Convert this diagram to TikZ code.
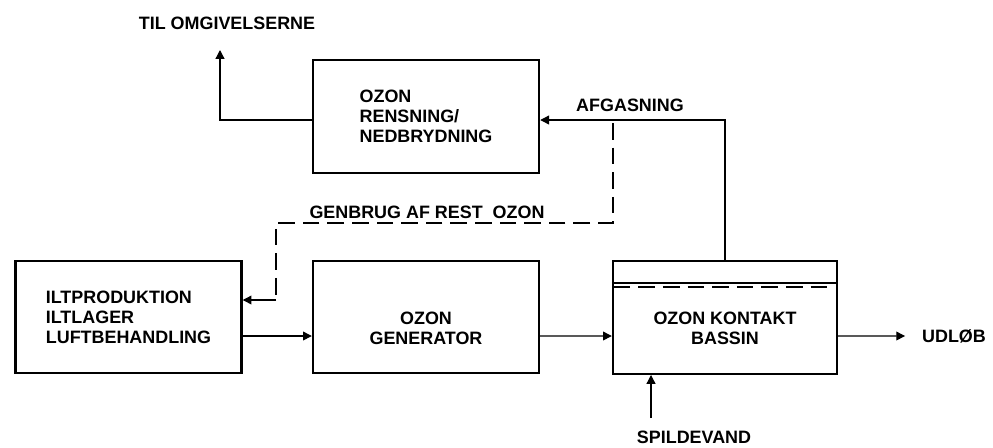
\documentclass[tikz,border=0pt]{standalone}
\usepackage{fontspec}
\setmainfont{Liberation Sans}
\usetikzlibrary{arrows.meta,calc}
\tikzset{
  boks/.style={draw,line width=1.4pt,minimum width=4.52cm,minimum height=2.25cm,inner sep=0pt},
  tekst/.style={font=\bfseries\fontsize{10.2}{11.3}\selectfont,inner sep=1pt},
  pil/.style={line width=0.7pt,-{Triangle[length=5pt,width=5pt]}},
  streg/.style={line width=0.7pt},
  stiplet/.style={line width=0.8pt,dash pattern=on 9.5pt off 4.5pt},
}
\begin{document}
\begin{tikzpicture}[x=0.02cm,y=-0.02cm]
\useasboundingbox (0,0) rectangle (993,447);
\node[boks,tekst,align=left] (rens) at (426,116.5) {OZON\\RENSNING/\\NEDBRYDNING};
\node[boks,tekst,align=left] (ilt) at (128.5,317) {ILTPRODUKTION\\ILTLAGER\\LUFTBEHANDLING};
\node[boks] (gen) at (426,317) {};
\node[tekst,align=center] (gentxt) at (426,328) {OZON\\GENERATOR};
\node[boks,minimum width=4.48cm] (bas) at (725,317.5) {};
\node[tekst,align=center] (bastxt) at (725,328) {OZON KONTAKT\\BASSIN};
\draw[streg] ($(bas.north west)+(0,23)$) -- ($(bas.north east)+(0,23)$);
\draw[stiplet] ($(bas.north west)+(2,27)$) -- ($(bas.north east)+(-9,27)$);

\node[tekst] (til) at (227,23) {TIL OMGIVELSERNE};
\coordinate (tiltop) at (220,50);
\draw[pil] ($(rens.west)+(0,3.5)$) -| (tiltop);

\node[tekst] (afg) at (630,105) {AFGASNING};
\draw[pil] (bas.north) |- ($(rens.east)+(0,3.5)$);

\node[tekst] (genbrug) at (427,212) {GENBRUG AF REST\ \ OZON};
\coordinate (genstart) at (613,123);
\coordinate (genmidt) at (276,223);
\coordinate (genknaek) at (276,300);
\draw[stiplet] (genstart) |- (genmidt) -- (genknaek);
\draw[pil] (genknaek) -- (genknaek -| ilt.east);

\draw[pil] ($(ilt.east)+(0,19)$) -- ($(gen.west)+(0,19)$);
\draw[pil] ($(gen.east)+(0,19)$) -- ($(bas.west)+(0,18.5)$);
\node[tekst,anchor=west] (udlob) at (920,336) {UDLØB};
\draw[pil,shorten >=8.5pt] ($(bas.east)+(0,18.5)$) -- (udlob.west);

\node[tekst] (spild) at (694,437) {SPILDEVAND};
\coordinate (spildbund) at (651,418);
\draw[pil] (spildbund) -- (spildbund |- bas.south);
\end{tikzpicture}
\end{document}
